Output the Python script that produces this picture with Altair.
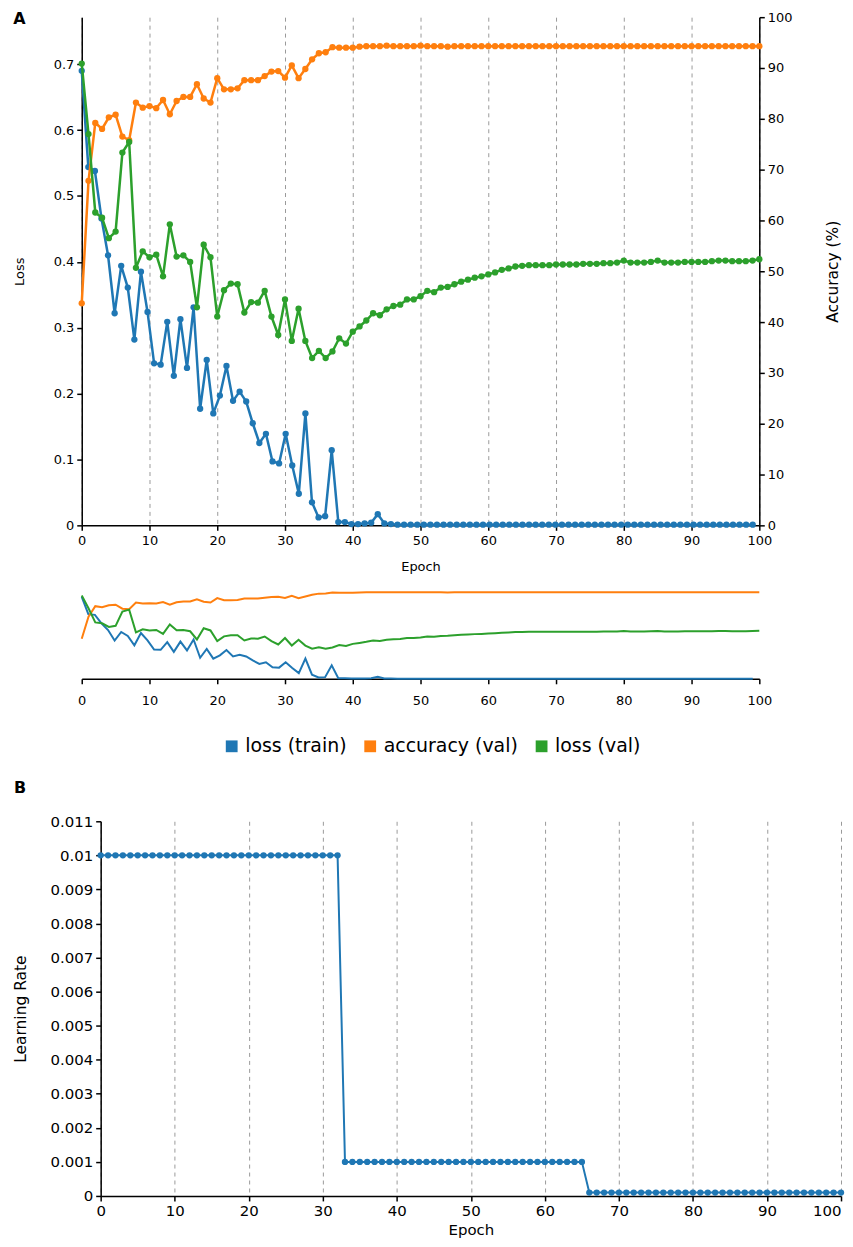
import altair as alt
import pandas as pd

FONT = "DejaVu Sans"
BLUE, ORANGE, GREEN = "#1f77b4", "#ff7f0e", "#2ca02c"

series_names = ["loss (train)", "accuracy (val)", "loss (val)"]
series_colors = [BLUE, ORANGE, GREEN]

# ---- data ----
epochs = list(range(0, 101))

# training loss is logged a little more often than once per epoch (103 samples over ~99 epochs)
train_loss = [
    0.690, 0.544, 0.538, 0.466, 0.410, 0.322, 0.394, 0.361, 0.282, 0.385,
    0.324, 0.246, 0.244, 0.309, 0.227, 0.313, 0.239, 0.331, 0.177, 0.251,
    0.170, 0.197, 0.242, 0.189, 0.203, 0.188, 0.155, 0.125, 0.139, 0.097,
    0.094, 0.139, 0.091, 0.048, 0.170, 0.035, 0.012, 0.014, 0.114, 0.005,
    0.005, 0.002, 0.002, 0.003, 0.004, 0.017, 0.003, 0.002, 0.001, 0.001,
    0.001, 0.001, 0.001, 0.001, 0.001, 0.001, 0.001, 0.001, 0.001, 0.001,
    0.001, 0.001, 0.001, 0.001, 0.001, 0.001, 0.001, 0.001, 0.001, 0.001,
    0.001, 0.001, 0.001, 0.001, 0.001, 0.001, 0.001, 0.001, 0.001, 0.001,
    0.001, 0.001, 0.001, 0.001, 0.001, 0.001, 0.001, 0.001, 0.001, 0.001,
    0.001, 0.001, 0.001, 0.001, 0.001, 0.001, 0.001, 0.001, 0.001, 0.001,
    0.001, 0.001, 0.001,
]
train_epoch = [round(i * 100 / 103, 3) for i in range(len(train_loss))]

val_loss = [
    0.701, 0.594, 0.475, 0.467, 0.436, 0.446, 0.566, 0.582, 0.391, 0.416,
    0.407, 0.411, 0.378, 0.457, 0.408, 0.410, 0.400, 0.331, 0.426, 0.407,
    0.317, 0.357, 0.367, 0.366, 0.323, 0.339, 0.338, 0.356, 0.317, 0.289,
    0.343, 0.280, 0.329, 0.280, 0.254, 0.265, 0.254, 0.264, 0.284, 0.276,
    0.294, 0.302, 0.311, 0.322, 0.319, 0.328, 0.333, 0.335, 0.343, 0.343,
    0.348, 0.356, 0.354, 0.361, 0.362, 0.366, 0.370, 0.373, 0.376, 0.378,
    0.381, 0.384, 0.388, 0.390, 0.393, 0.394, 0.395, 0.395, 0.395, 0.395,
    0.396, 0.396, 0.396, 0.396, 0.397, 0.397, 0.397, 0.398, 0.398, 0.399,
    0.402, 0.399, 0.399, 0.399, 0.400, 0.402, 0.399, 0.399, 0.399, 0.400,
    0.400, 0.400, 0.400, 0.401, 0.402, 0.402, 0.401, 0.401, 0.401, 0.402,
    0.404,
]

val_accuracy = [
    43.7, 67.8, 79.2, 78.0, 80.3, 80.8, 76.5, 75.8, 83.2, 82.2,
    82.5, 82.1, 83.7, 80.9, 83.5, 84.3, 84.3, 86.8, 84.0, 83.2,
    88.0, 85.8, 85.8, 86.0, 87.6, 87.6, 87.6, 88.4, 89.3, 89.4,
    88.1, 90.5, 88.0, 89.8, 91.7, 92.9, 93.1, 94.1, 94.0, 94.0,
    94.0, 94.2, 94.3, 94.3, 94.3, 94.4, 94.3, 94.3, 94.3, 94.3,
    94.4, 94.3, 94.3, 94.3, 94.2, 94.3, 94.3, 94.3, 94.3, 94.3,
    94.3, 94.3, 94.3, 94.3, 94.3, 94.3, 94.3, 94.3, 94.3, 94.3,
    94.3, 94.3, 94.3, 94.3, 94.3, 94.3, 94.3, 94.3, 94.3, 94.3,
    94.3, 94.3, 94.3, 94.3, 94.3, 94.3, 94.3, 94.3, 94.3, 94.3,
    94.3, 94.3, 94.3, 94.3, 94.3, 94.3, 94.3, 94.3, 94.3, 94.3,
    94.3,
]

lr_epochs = list(range(0, 101))
learning_rate = [0.01] * 33 + [0.001] * 33 + [0.0001] * 35

x_ticks = list(range(0, 101, 10))
loss_ticks = [0, 0.1, 0.2, 0.3, 0.4, 0.5, 0.6, 0.7]
acc_ticks = list(range(0, 101, 10))
lr_ticks = [0, 0.001, 0.002, 0.003, 0.004, 0.005, 0.006, 0.007, 0.008, 0.009, 0.01, 0.011]

train_df = pd.DataFrame({"epoch": train_epoch, "loss": train_loss})
val_df = pd.DataFrame({"epoch": epochs, "loss": val_loss, "acc": val_accuracy})
lr_df = pd.DataFrame({"epoch": lr_epochs, "lr": learning_rate})
legend_df = pd.DataFrame({"series": series_names})

LOSS_DOMAIN = [0, 0.7715]
ACC_DOMAIN = [0, 100]
GRID = dict(grid=True, gridDash=[4, 4], gridColor="#9a9a9a", gridWidth=1)

# panel B's plot starts a little to the right of panel A's (wider axis labels)
B_SHIFT = 19
B_WIDTH = 762


def xscale():
    return alt.Scale(domain=[0, 100], nice=False, zero=False)


def main_x():
    return alt.X(
        "epoch:Q", scale=xscale(),
        axis=alt.Axis(values=x_ticks, title="Epoch", format="d",
                      labelFontSize=13, titleFontSize=13, tickSize=5,
                      labelPadding=4, titlePadding=13, labelFlush=False, **GRID),
    )


loss_scale = alt.Scale(domain=LOSS_DOMAIN, nice=False, zero=False)
acc_scale = alt.Scale(domain=ACC_DOMAIN, nice=False, zero=False)

# ---- Panel A : main chart ----
blue_base = alt.Chart(train_df).encode(
    x=main_x(),
    y=alt.Y("loss:Q", scale=loss_scale,
            axis=alt.Axis(values=loss_ticks, format=".1~f", title="Loss",
                          labelFontSize=13, titleFontSize=13, tickSize=5,
                          labelPadding=3, titlePadding=27, grid=False)),
)
blue_layer = alt.layer(
    blue_base.mark_line(color=BLUE, strokeWidth=2.5),
    blue_base.mark_circle(color=BLUE, size=40, opacity=1),
)

orange_base = alt.Chart(val_df).encode(
    x=main_x(),
    y=alt.Y("acc:Q", scale=acc_scale,
            axis=alt.Axis(orient="right", values=acc_ticks, format="d",
                          title="Accuracy (%)", titleAngle=270, titleBaseline="bottom",
                          labelFontSize=13, titleFontSize=15.5,
                          tickSize=5, labelPadding=3, titlePadding=49, grid=False)),
)
orange_layer = alt.layer(
    orange_base.mark_line(color=ORANGE, strokeWidth=2.5),
    orange_base.mark_circle(color=ORANGE, size=40, opacity=1),
)

green_base = alt.Chart(val_df).encode(
    x=main_x(),
    y=alt.Y("loss:Q", scale=loss_scale, axis=None),
)
green_layer = alt.layer(
    green_base.mark_line(color=GREEN, strokeWidth=2.5),
    green_base.mark_circle(color=GREEN, size=40, opacity=1),
)

main = alt.layer(blue_layer, orange_layer, green_layer).resolve_scale(
    y="independent"
).properties(
    width=680, height=510,
    title=alt.TitleParams("A", anchor="start", offset=-16, fontSize=16,
                          fontWeight="bold", font=FONT),
)

# ---- Panel A : overview ----
ov_x = alt.X(
    "epoch:Q", scale=xscale(),
    axis=alt.Axis(values=x_ticks, title=None, format="d", grid=False,
                  labelFontSize=13, tickSize=5, labelPadding=11, labelFlush=False),
)
ov_blue = alt.Chart(train_df).mark_line(color=BLUE, strokeWidth=2).encode(
    x=ov_x, y=alt.Y("loss:Q", scale=loss_scale, axis=None))
ov_orange = alt.Chart(val_df).mark_line(color=ORANGE, strokeWidth=2).encode(
    x=ov_x, y=alt.Y("acc:Q", scale=acc_scale, axis=None))
ov_green = alt.Chart(val_df).mark_line(color=GREEN, strokeWidth=2).encode(
    x=ov_x, y=alt.Y("loss:Q", scale=loss_scale, axis=None))
ov_legend = alt.Chart(legend_df).mark_square(size=140, opacity=1).encode(
    color=alt.Color(
        "series:N",
        scale=alt.Scale(domain=series_names, range=series_colors),
        legend=alt.Legend(orient="none", legendX=141, legendY=150,
                          direction="horizontal", title=None,
                          labelFontSize=19, labelFont=FONT, labelColor="#000",
                          symbolType="square", symbolSize=140,
                          symbolStrokeWidth=0, labelOffset=4, columnPadding=14),
    )
).transform_filter("false")

overview = alt.layer(ov_blue, ov_orange, ov_green, ov_legend).resolve_scale(
    y="independent"
).properties(width=680, height=92)

# ---- Panel B : learning rate ----
b_base = alt.Chart(lr_df).encode(
    x=alt.X("epoch:Q",
            scale=alt.Scale(domain=[0, 100], nice=False, zero=False,
                            range=[B_SHIFT, B_WIDTH]),
            axis=alt.Axis(values=x_ticks, title="Epoch", format="d",
                          labelFontSize=15, titleFontSize=15, tickSize=5,
                          labelPadding=3, titlePadding=4, labelFlush=False,
                          labelAlign={"condition": {"test": "datum.value >= 100", "value": "right"},
                                      "value": "center"},
                          **GRID)),
    y=alt.Y("lr:Q", scale=alt.Scale(domain=[0, 0.011], nice=False, zero=False),
            axis=alt.Axis(values=lr_ticks, format=".3~f", title="Learning Rate",
                          offset=-B_SHIFT,
                          labelFontSize=15, titleFontSize=15.5, tickSize=5,
                          labelPadding=3, titlePadding=21, grid=False)),
)
panel_b = alt.layer(
    b_base.mark_line(color=BLUE, strokeWidth=2),
    b_base.mark_circle(color=BLUE, size=40, opacity=1),
).properties(
    width=B_WIDTH, height=376,
    title=alt.TitleParams("B", anchor="start", offset=18, fontSize=16,
                          fontWeight="bold", font=FONT),
)

panel_a = alt.vconcat(main, overview, spacing=14).resolve_scale(color="independent")

chart = alt.vconcat(panel_a, panel_b, spacing=24).resolve_scale(
    color="independent"
).properties(
    padding={"left": 5, "top": 1, "right": 0, "bottom": 0},
).configure_view(stroke=None).configure_axis(
    domainColor="#000", tickColor="#000", labelColor="#000", titleColor="#000",
    labelFont=FONT, titleFont=FONT, titleFontWeight="normal", domainWidth=1.5,
    tickWidth=1.5,
).configure_title(font=FONT, color="#000")

chart.save("out.html", embed_options={"renderer": "svg", "actions": False})
